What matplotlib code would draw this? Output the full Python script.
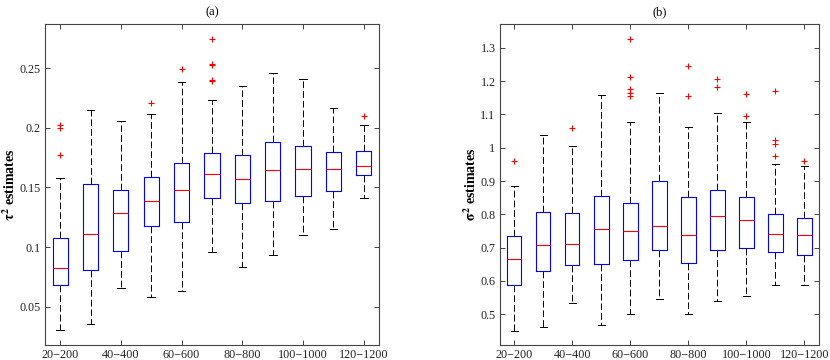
"""
Boxplots of tau^2 and sigma^2 estimates for different sample sizes.
"""
import matplotlib
matplotlib.use('Agg')
import matplotlib.pyplot as plt

plt.rcParams['font.family'] = ['Liberation Serif', 'DejaVu Serif']
plt.rcParams['mathtext.fontset'] = 'stix'

# Group labels (only every other one is written on the axis)
groups = ['20−200', '30−300', '40−400', '50−500', '60−600', '70−700',
          '80−800', '90−900', '100−1000', '110−1100', '120−1200']

# (a) tau^2 estimates
tau_whislo = [0.0304, 0.0357, 0.0654, 0.0584, 0.0631, 0.0958,
              0.0830, 0.0933, 0.1100, 0.1156, 0.1416]
tau_q1 = [0.0684, 0.0810, 0.0964, 0.1176, 0.1209, 0.1413,
          0.1369, 0.1385, 0.1427, 0.1469, 0.1606]
tau_med = [0.0827, 0.1109, 0.1288, 0.1385, 0.1475, 0.1617,
           0.1570, 0.1645, 0.1654, 0.1654, 0.1679]
tau_q3 = [0.1080, 0.1530, 0.1483, 0.1587, 0.1701, 0.1785,
          0.1771, 0.1883, 0.1846, 0.1799, 0.1802]
tau_whishi = [0.1580, 0.2148, 0.2061, 0.2120, 0.2380, 0.2237,
              0.2349, 0.2458, 0.2405, 0.2170, 0.2020]
tau_fliers = [[0.202, 0.200, 0.177], [], [], [0.2204], [0.2492],
              [0.2746, 0.2534, 0.2525, 0.2402, 0.2391],
              [], [], [], [], [0.2103]]

# (b) sigma^2 estimates
sig_whislo = [0.4499, 0.4599, 0.5320, 0.4679, 0.5010, 0.5451,
              0.5000, 0.5381, 0.5531, 0.5862, 0.5882]
sig_q1 = [0.5872, 0.6293, 0.6474, 0.6494, 0.6624, 0.6925,
          0.6524, 0.6915, 0.6975, 0.6855, 0.6775]
sig_med = [0.6644, 0.7065, 0.7095, 0.7556, 0.7486, 0.7637,
           0.7366, 0.7937, 0.7827, 0.7406, 0.7376]
sig_q3 = [0.7336, 0.8058, 0.8028, 0.8549, 0.8328, 0.9010,
          0.8509, 0.8729, 0.8519, 0.7998, 0.7877]
sig_whishi = [0.8860, 1.0373, 1.0053, 1.1596, 1.0784, 1.1657,
              1.0634, 1.1055, 1.0764, 0.9521, 0.9451]
sig_fliers = [[0.960], [], [1.0584], [],
              [1.327, 1.2128, 1.1777, 1.1647, 1.1556],
              [], [1.2449, 1.1546], [1.2068, 1.1817], [1.1617, 1.0965],
              [1.1707, 1.0243, 1.0103, 0.9752], [0.960]]


def make_stats(whislo, q1, med, q3, whishi, fliers):
    """Собираем статистики для bxp."""
    stats = []
    for i in range(len(med)):
        stats.append({'whislo': whislo[i], 'q1': q1[i], 'med': med[i],
                      'q3': q3[i], 'whishi': whishi[i],
                      'fliers': fliers[i]})
    return stats


def draw_panel(ax, stats, ylabel, title, ylim, yticks):
    """Один график с ящиками в стиле MATLAB."""
    ax.bxp(stats, positions=range(1, len(stats) + 1), widths=0.5,
           capwidths=0.25,
           boxprops=dict(color='#0000ff', lw=0.8),
           medianprops=dict(color='#ff0000', lw=0.8),
           whiskerprops=dict(color='black', lw=0.7, ls=(0, (7, 3))),
           capprops=dict(color='black', lw=0.7),
           flierprops=dict(marker='+', markeredgecolor='#ff0000',
                           markersize=5, markeredgewidth=0.8,
                           linestyle='none'))
    ax.set_xlim(0.5, 11.5)
    ax.set_ylim(*ylim)
    ax.set_yticks(yticks)
    ax.set_yticklabels([f'{t:g}' for t in yticks])
    ax.set_xticks(range(1, 12, 2))
    ax.set_xticklabels(groups[::2])
    ax.tick_params(direction='in', top=True, right=True, length=3.5,
                   width=0.6, labelsize=8.7, colors='#222222', pad=3)
    for sp in ax.spines.values():
        sp.set_color('#444444')
        sp.set_linewidth(0.8)
    ax.set_ylabel(ylabel, fontsize=10, fontweight='bold', labelpad=1)
    ax.set_title(title, fontsize=9, pad=6)


fig = plt.figure(figsize=(8.3, 3.6), dpi=100)
ax1 = fig.add_axes([0.0542, 0.0417, 0.4024, 0.8916])
ax2 = fig.add_axes([0.602, 0.0417, 0.3847, 0.8916])

draw_panel(ax1, make_stats(tau_whislo, tau_q1, tau_med, tau_q3,
                           tau_whishi, tau_fliers),
           r'$\mathbf{\tau^2}$ estimates', '(a)', (0.018, 0.287),
           [0.05, 0.1, 0.15, 0.2, 0.25])
draw_panel(ax2, make_stats(sig_whislo, sig_q1, sig_med, sig_q3,
                           sig_whishi, sig_fliers),
           r'$\mathbf{\sigma^2}$ estimates', '(b)', (0.407, 1.372),
           [0.5, 0.6, 0.7, 0.8, 0.9, 1.0, 1.1, 1.2, 1.3])

fig.savefig('out.png', dpi=100)
